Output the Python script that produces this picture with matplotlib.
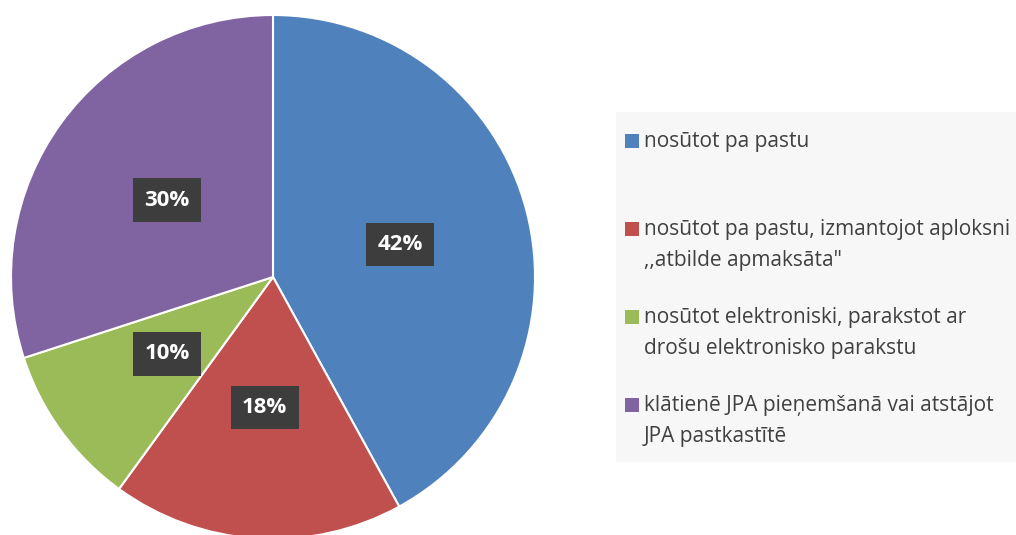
import matplotlib.pyplot as plt
from matplotlib.patches import Rectangle

# pie data
labels = [
    "nosūtot pa pastu",
    "nosūtot pa pastu, izmantojot aploksni\n,,atbilde apmaksāta\"",
    "nosūtot elektroniski, parakstot ar\ndrošu elektronisko parakstu",
    "klātienē JPA pieņemšanā vai atstājot\nJPA pastkastītē",
]
shares = [42, 18, 10, 30]
colors = ["#4F81BD", "#C0504D", "#9BBB59", "#8064A2"]

W, H = 1016, 535
FONT = ["Open Sans", "DejaVu Sans"]


def main():
    fig = plt.figure(figsize=(W / 100, H / 100), dpi=100)
    fig.patch.set_facecolor("white")

    # pie centre ~ (273, 277) px, radius ~ 262 px
    r = 262
    ax = fig.add_axes([(273 - r) / W, (H - 277 - r) / H, 2 * r / W, 2 * r / H])
    wedges, texts, autotexts = ax.pie(
        shares, colors=colors, startangle=90, counterclock=False,
        autopct="%d%%", pctdistance=0.5,
        wedgeprops=dict(edgecolor="white", linewidth=1.5),
        textprops=dict(color="white", fontsize=16, fontweight="bold",
                       family=FONT),
    )
    for t in autotexts:
        t.set_bbox(dict(boxstyle="square,pad=0.5", facecolor="#3d3d3d",
                        edgecolor="none"))
    ax.set_xlim(-1, 1)
    ax.set_ylim(-1, 1)
    for w in wedges:
        w.set_clip_on(False)

    # legend panel drawn by hand so the square sits on the first line
    fig.patches.append(Rectangle((616 / W, 1 - 462 / H), 400 / W, 350 / H,
                                 transform=fig.transFigure,
                                 facecolor="#F7F7F7", edgecolor="none",
                                 zorder=0))
    y0, step = 141, 88
    for i, (lab, c) in enumerate(zip(labels, colors)):
        y = y0 + i * step
        fig.patches.append(Rectangle((625 / W, 1 - (y + 7) / H), 14 / W, 14 / H,
                                     transform=fig.transFigure,
                                     facecolor=c, edgecolor="none"))
        fig.text(644 / W, 1 - (y - 10) / H, lab, ha="left", va="top",
                 fontsize=15, color="#404040", linespacing=1.65,
                 family=FONT)

    fig.savefig("out.png", dpi=100)


if __name__ == "__main__":
    main()
